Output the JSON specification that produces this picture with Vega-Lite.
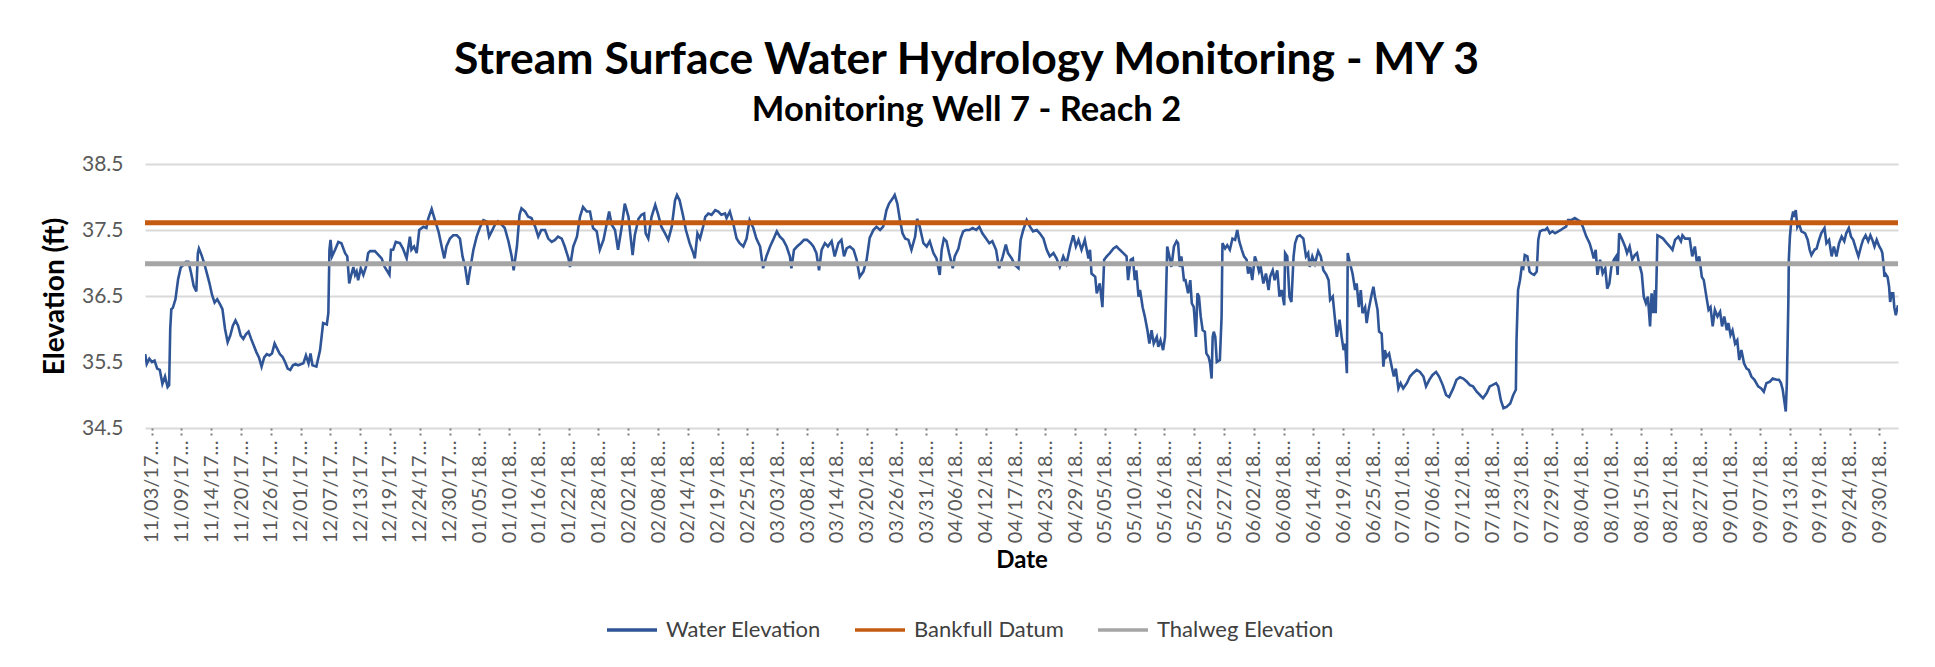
{
"$schema":"https://vega.github.io/schema/vega-lite/v6.json",
"width":1753,"height":264,
"autosize":{"type":"none"},
"padding":{"left":145,"top":164,"right":37,"bottom":239},
"background":"#FFFFFF",
"config":{"view":{"stroke":null},"font":"Lato","legend":{"orient":"none","legendX":460,"legendY":439,"direction":"horizontal","symbolType":"stroke","symbolSize":2500,"symbolStrokeWidth":3.5,"labelFont":"Lato","labelFontSize":22,"labelColor":"#404040","labelOffset":7,"columnPadding":27,"labelLimit":400}},
"title":{"text":"Stream Surface Water Hydrology Monitoring - MY 3","subtitle":"Monitoring Well 7 - Reach 2","font":"Lato","fontSize":44.5,"fontWeight":"bold","color":"#000000","subtitleFont":"Lato","subtitleFontSize":34.5,"subtitleFontWeight":"bold","subtitleColor":"#000000","subtitlePadding":10,"anchor":"middle","dx":-55,"offset":25},
"datasets":{
"water":[
{"date":"2017-11-02T05:00Z","elev":35.62},{"date":"2017-11-02T12:00Z","elev":35.47},{"date":"2017-11-03T00:00Z","elev":35.55},{"date":"2017-11-03T12:00Z","elev":35.50},{"date":"2017-11-04T00:00Z","elev":35.52},{"date":"2017-11-04T12:00Z","elev":35.40},{"date":"2017-11-05T00:00Z","elev":35.38},{"date":"2017-11-05T12:00Z","elev":35.17},{"date":"2017-11-06T00:00Z","elev":35.28},{"date":"2017-11-06T12:00Z","elev":35.12},{"date":"2017-11-06T19:00Z","elev":35.15},{"date":"2017-11-07T00:00Z","elev":36.00},{"date":"2017-11-07T05:00Z","elev":36.30},{"date":"2017-11-07T12:00Z","elev":36.32},{"date":"2017-11-08T00:00Z","elev":36.45},{"date":"2017-11-08T12:00Z","elev":36.75},{"date":"2017-11-09T00:00Z","elev":36.93},{"date":"2017-11-09T12:00Z","elev":36.97},{"date":"2017-11-10T00:00Z","elev":37.02},{"date":"2017-11-10T12:00Z","elev":37.02},{"date":"2017-11-11T00:00Z","elev":36.85},{"date":"2017-11-11T12:00Z","elev":36.65},{"date":"2017-11-12T00:00Z","elev":36.57},{"date":"2017-11-12T07:00Z","elev":37.15},{"date":"2017-11-12T12:00Z","elev":37.22},{"date":"2017-11-13T00:00Z","elev":37.12},{"date":"2017-11-13T12:00Z","elev":37.00},{"date":"2017-11-14T00:00Z","elev":36.85},{"date":"2017-11-14T12:00Z","elev":36.70},{"date":"2017-11-15T00:00Z","elev":36.52},{"date":"2017-11-15T12:00Z","elev":36.40},{"date":"2017-11-16T00:00Z","elev":36.45},{"date":"2017-11-16T12:00Z","elev":36.38},{"date":"2017-11-17T00:00Z","elev":36.30},{"date":"2017-11-17T12:00Z","elev":36.00},{"date":"2017-11-18T00:00Z","elev":35.80},{"date":"2017-11-18T12:00Z","elev":35.90},{"date":"2017-11-19T00:00Z","elev":36.05},{"date":"2017-11-19T12:00Z","elev":36.13},{"date":"2017-11-20T00:00Z","elev":36.05},{"date":"2017-11-20T12:00Z","elev":35.90},{"date":"2017-11-21T00:00Z","elev":35.85},{"date":"2017-11-21T12:00Z","elev":35.92},{"date":"2017-11-22T00:00Z","elev":35.96},{"date":"2017-11-22T12:00Z","elev":35.85},{"date":"2017-11-23T00:00Z","elev":35.75},{"date":"2017-11-23T12:00Z","elev":35.65},{"date":"2017-11-24T00:00Z","elev":35.57},{"date":"2017-11-24T12:00Z","elev":35.43},{"date":"2017-11-25T00:00Z","elev":35.57},{"date":"2017-11-25T12:00Z","elev":35.62},{"date":"2017-11-26T00:00Z","elev":35.60},{"date":"2017-11-26T12:00Z","elev":35.63},{"date":"2017-11-27T00:00Z","elev":35.78},{"date":"2017-11-27T12:00Z","elev":35.70},{"date":"2017-11-28T00:00Z","elev":35.62},{"date":"2017-11-28T12:00Z","elev":35.58},{"date":"2017-11-29T00:00Z","elev":35.50},{"date":"2017-11-29T12:00Z","elev":35.40},{"date":"2017-11-30T00:00Z","elev":35.38},{"date":"2017-11-30T12:00Z","elev":35.45},
{"date":"2017-12-01T00:00Z","elev":35.47},{"date":"2017-12-01T12:00Z","elev":35.45},{"date":"2017-12-02T12:00Z","elev":35.48},{"date":"2017-12-03T00:00Z","elev":35.60},{"date":"2017-12-03T12:00Z","elev":35.48},{"date":"2017-12-03T21:00Z","elev":35.63},{"date":"2017-12-04T06:00Z","elev":35.45},{"date":"2017-12-05T00:00Z","elev":35.43},{"date":"2017-12-05T17:00Z","elev":35.68},{"date":"2017-12-06T07:00Z","elev":36.09},{"date":"2017-12-07T00:00Z","elev":36.07},{"date":"2017-12-07T07:00Z","elev":36.24},{"date":"2017-12-07T12:00Z","elev":37.20},{"date":"2017-12-07T17:00Z","elev":37.35},{"date":"2017-12-08T00:00Z","elev":37.10},{"date":"2017-12-08T14:00Z","elev":37.20},{"date":"2017-12-09T05:00Z","elev":37.32},{"date":"2017-12-09T19:00Z","elev":37.30},{"date":"2017-12-10T12:00Z","elev":37.15},{"date":"2017-12-10T22:00Z","elev":37.10},{"date":"2017-12-11T07:00Z","elev":36.69},{"date":"2017-12-11T14:00Z","elev":36.79},{"date":"2017-12-12T02:00Z","elev":36.94},{"date":"2017-12-12T10:00Z","elev":36.82},{"date":"2017-12-12T17:00Z","elev":36.87},{"date":"2017-12-13T00:00Z","elev":36.74},{"date":"2017-12-13T12:00Z","elev":36.92},{"date":"2017-12-14T00:00Z","elev":36.82},{"date":"2017-12-14T12:00Z","elev":36.94},{"date":"2017-12-14T22:00Z","elev":37.15},{"date":"2017-12-15T07:00Z","elev":37.18},{"date":"2017-12-16T05:00Z","elev":37.18},{"date":"2017-12-16T22:00Z","elev":37.12},{"date":"2017-12-17T12:00Z","elev":37.07},{"date":"2017-12-18T02:00Z","elev":36.94},{"date":"2017-12-19T00:00Z","elev":36.82},{"date":"2017-12-19T07:00Z","elev":37.20},{"date":"2017-12-19T17:00Z","elev":37.20},{"date":"2017-12-20T05:00Z","elev":37.32},{"date":"2017-12-21T00:00Z","elev":37.30},{"date":"2017-12-21T14:00Z","elev":37.22},{"date":"2017-12-22T07:00Z","elev":37.07},{"date":"2017-12-22T22:00Z","elev":37.40},{"date":"2017-12-23T05:00Z","elev":37.20},{"date":"2017-12-23T17:00Z","elev":37.25},{"date":"2017-12-24T05:00Z","elev":37.15},{"date":"2017-12-24T17:00Z","elev":37.50},{"date":"2017-12-25T12:00Z","elev":37.55},{"date":"2017-12-26T02:00Z","elev":37.53},{"date":"2017-12-26T10:00Z","elev":37.67},{"date":"2017-12-27T02:00Z","elev":37.82},{"date":"2017-12-27T17:00Z","elev":37.65},{"date":"2017-12-28T10:00Z","elev":37.47},{"date":"2017-12-29T00:00Z","elev":37.25},{"date":"2017-12-29T12:00Z","elev":37.07},{"date":"2017-12-29T22:00Z","elev":37.25},{"date":"2017-12-30T14:00Z","elev":37.37},{"date":"2017-12-31T05:00Z","elev":37.42},{"date":"2017-12-31T22:00Z","elev":37.42},
{"date":"2018-01-01T12:00Z","elev":37.37},{"date":"2018-01-02T00:00Z","elev":37.10},{"date":"2018-01-02T12:00Z","elev":36.94},{"date":"2018-01-03T00:00Z","elev":36.67},{"date":"2018-01-03T10:00Z","elev":36.89},{"date":"2018-01-04T02:00Z","elev":37.20},{"date":"2018-01-04T17:00Z","elev":37.40},{"date":"2018-01-05T07:00Z","elev":37.53},{"date":"2018-01-06T00:00Z","elev":37.65},{"date":"2018-01-06T14:00Z","elev":37.63},{"date":"2018-01-07T02:00Z","elev":37.40},{"date":"2018-01-07T14:00Z","elev":37.48},{"date":"2018-01-08T05:00Z","elev":37.58},{"date":"2018-01-08T19:00Z","elev":37.63},{"date":"2018-01-09T12:00Z","elev":37.58},{"date":"2018-01-10T02:00Z","elev":37.53},{"date":"2018-01-10T19:00Z","elev":37.33},{"date":"2018-01-11T10:00Z","elev":37.10},{"date":"2018-01-11T19:00Z","elev":36.89},{"date":"2018-01-12T10:00Z","elev":37.25},{"date":"2018-01-12T22:00Z","elev":37.73},{"date":"2018-01-13T07:00Z","elev":37.83},{"date":"2018-01-14T00:00Z","elev":37.78},{"date":"2018-01-14T14:00Z","elev":37.70},{"date":"2018-01-15T05:00Z","elev":37.68},{"date":"2018-01-15T22:00Z","elev":37.55},{"date":"2018-01-16T12:00Z","elev":37.40},{"date":"2018-01-17T02:00Z","elev":37.50},{"date":"2018-01-17T19:00Z","elev":37.50},{"date":"2018-01-18T10:00Z","elev":37.37},{"date":"2018-01-19T02:00Z","elev":37.32},{"date":"2018-01-19T17:00Z","elev":37.35},{"date":"2018-01-20T07:00Z","elev":37.40},{"date":"2018-01-21T00:00Z","elev":37.37},{"date":"2018-01-21T14:00Z","elev":37.25},{"date":"2018-01-22T07:00Z","elev":37.07},{"date":"2018-01-22T14:00Z","elev":36.94},{"date":"2018-01-23T05:00Z","elev":37.25},{"date":"2018-01-23T22:00Z","elev":37.40},{"date":"2018-01-24T12:00Z","elev":37.70},{"date":"2018-01-25T02:00Z","elev":37.85},{"date":"2018-01-25T19:00Z","elev":37.78},{"date":"2018-01-26T10:00Z","elev":37.78},{"date":"2018-01-27T00:00Z","elev":37.53},{"date":"2018-01-27T17:00Z","elev":37.48},{"date":"2018-01-28T07:00Z","elev":37.20},{"date":"2018-01-29T00:00Z","elev":37.35},{"date":"2018-01-29T14:00Z","elev":37.58},{"date":"2018-01-30T02:00Z","elev":37.78},{"date":"2018-01-30T14:00Z","elev":37.58},{"date":"2018-01-31T05:00Z","elev":37.50},{"date":"2018-01-31T19:00Z","elev":37.20},
{"date":"2018-02-01T12:00Z","elev":37.55},{"date":"2018-02-02T02:00Z","elev":37.90},{"date":"2018-02-02T19:00Z","elev":37.70},{"date":"2018-02-03T02:00Z","elev":37.48},{"date":"2018-02-03T14:00Z","elev":37.12},{"date":"2018-02-04T00:00Z","elev":37.42},{"date":"2018-02-04T17:00Z","elev":37.67},{"date":"2018-02-05T07:00Z","elev":37.73},{"date":"2018-02-05T19:00Z","elev":37.75},{"date":"2018-02-06T02:00Z","elev":37.45},{"date":"2018-02-06T14:00Z","elev":37.37},{"date":"2018-02-07T05:00Z","elev":37.70},{"date":"2018-02-07T22:00Z","elev":37.88},{"date":"2018-02-08T12:00Z","elev":37.73},{"date":"2018-02-09T02:00Z","elev":37.55},{"date":"2018-02-09T19:00Z","elev":37.45},{"date":"2018-02-10T10:00Z","elev":37.35},{"date":"2018-02-11T02:00Z","elev":37.55},{"date":"2018-02-11T17:00Z","elev":37.95},{"date":"2018-02-12T02:00Z","elev":38.03},{"date":"2018-02-12T14:00Z","elev":37.95},{"date":"2018-02-13T05:00Z","elev":37.73},{"date":"2018-02-13T19:00Z","elev":37.50},{"date":"2018-02-14T12:00Z","elev":37.30},{"date":"2018-02-15T05:00Z","elev":37.15},{"date":"2018-02-15T12:00Z","elev":37.07},{"date":"2018-02-16T00:00Z","elev":37.45},{"date":"2018-02-16T12:00Z","elev":37.37},{"date":"2018-02-17T02:00Z","elev":37.55},{"date":"2018-02-17T12:00Z","elev":37.70},{"date":"2018-02-18T02:00Z","elev":37.75},{"date":"2018-02-18T17:00Z","elev":37.73},{"date":"2018-02-19T10:00Z","elev":37.80},{"date":"2018-02-20T00:00Z","elev":37.78},{"date":"2018-02-20T14:00Z","elev":37.73},{"date":"2018-02-21T07:00Z","elev":37.75},{"date":"2018-02-21T14:00Z","elev":37.68},{"date":"2018-02-22T05:00Z","elev":37.78},{"date":"2018-02-22T22:00Z","elev":37.58},{"date":"2018-02-23T12:00Z","elev":37.37},{"date":"2018-02-24T02:00Z","elev":37.30},{"date":"2018-02-24T19:00Z","elev":37.25},{"date":"2018-02-25T10:00Z","elev":37.37},{"date":"2018-02-26T00:00Z","elev":37.65},{"date":"2018-02-26T17:00Z","elev":37.53},{"date":"2018-02-27T07:00Z","elev":37.37},{"date":"2018-02-28T00:00Z","elev":37.25},{"date":"2018-02-28T14:00Z","elev":36.92},
{"date":"2018-03-01T05:00Z","elev":37.10},{"date":"2018-03-01T22:00Z","elev":37.25},{"date":"2018-03-02T12:00Z","elev":37.35},{"date":"2018-03-03T05:00Z","elev":37.48},{"date":"2018-03-03T19:00Z","elev":37.40},{"date":"2018-03-04T10:00Z","elev":37.35},{"date":"2018-03-05T02:00Z","elev":37.25},{"date":"2018-03-05T17:00Z","elev":37.10},{"date":"2018-03-06T00:00Z","elev":36.92},{"date":"2018-03-06T12:00Z","elev":37.20},{"date":"2018-03-07T02:00Z","elev":37.25},{"date":"2018-03-07T19:00Z","elev":37.30},{"date":"2018-03-08T10:00Z","elev":37.35},{"date":"2018-03-09T00:00Z","elev":37.35},{"date":"2018-03-09T17:00Z","elev":37.30},{"date":"2018-03-10T05:00Z","elev":37.25},{"date":"2018-03-10T19:00Z","elev":37.15},{"date":"2018-03-11T07:00Z","elev":36.89},{"date":"2018-03-11T19:00Z","elev":37.20},{"date":"2018-03-12T10:00Z","elev":37.30},{"date":"2018-03-13T00:00Z","elev":37.25},{"date":"2018-03-13T17:00Z","elev":37.33},{"date":"2018-03-14T07:00Z","elev":37.10},{"date":"2018-03-15T00:00Z","elev":37.30},{"date":"2018-03-15T14:00Z","elev":37.35},{"date":"2018-03-16T02:00Z","elev":37.10},{"date":"2018-03-16T14:00Z","elev":37.22},{"date":"2018-03-17T05:00Z","elev":37.25},{"date":"2018-03-17T22:00Z","elev":37.20},{"date":"2018-03-18T12:00Z","elev":37.05},{"date":"2018-03-19T02:00Z","elev":36.79},{"date":"2018-03-19T19:00Z","elev":36.87},{"date":"2018-03-20T10:00Z","elev":37.05},{"date":"2018-03-21T00:00Z","elev":37.38},{"date":"2018-03-21T17:00Z","elev":37.50},{"date":"2018-03-22T07:00Z","elev":37.55},{"date":"2018-03-23T00:00Z","elev":37.50},{"date":"2018-03-23T14:00Z","elev":37.55},{"date":"2018-03-24T05:00Z","elev":37.80},{"date":"2018-03-24T17:00Z","elev":37.90},{"date":"2018-03-25T10:00Z","elev":37.98},{"date":"2018-03-25T19:00Z","elev":38.03},{"date":"2018-03-26T07:00Z","elev":37.90},{"date":"2018-03-26T19:00Z","elev":37.65},{"date":"2018-03-27T07:00Z","elev":37.45},{"date":"2018-03-27T19:00Z","elev":37.37},{"date":"2018-03-28T10:00Z","elev":37.35},{"date":"2018-03-29T00:00Z","elev":37.20},{"date":"2018-03-29T17:00Z","elev":37.40},{"date":"2018-03-30T02:00Z","elev":37.67},{"date":"2018-03-30T14:00Z","elev":37.55},{"date":"2018-03-31T07:00Z","elev":37.30},{"date":"2018-03-31T22:00Z","elev":37.25},
{"date":"2018-04-01T12:00Z","elev":37.33},{"date":"2018-04-02T05:00Z","elev":37.15},{"date":"2018-04-02T19:00Z","elev":37.07},{"date":"2018-04-03T10:00Z","elev":36.82},{"date":"2018-04-03T19:00Z","elev":37.20},{"date":"2018-04-04T05:00Z","elev":37.37},{"date":"2018-04-04T17:00Z","elev":37.33},{"date":"2018-04-05T05:00Z","elev":37.15},{"date":"2018-04-05T22:00Z","elev":36.92},{"date":"2018-04-06T07:00Z","elev":37.10},{"date":"2018-04-07T00:00Z","elev":37.22},{"date":"2018-04-07T10:00Z","elev":37.37},{"date":"2018-04-07T22:00Z","elev":37.48},{"date":"2018-04-08T10:00Z","elev":37.50},{"date":"2018-04-09T02:00Z","elev":37.50},{"date":"2018-04-09T17:00Z","elev":37.53},{"date":"2018-04-10T10:00Z","elev":37.50},{"date":"2018-04-11T00:00Z","elev":37.55},{"date":"2018-04-11T14:00Z","elev":37.45},{"date":"2018-04-12T07:00Z","elev":37.37},{"date":"2018-04-12T22:00Z","elev":37.30},{"date":"2018-04-13T12:00Z","elev":37.33},{"date":"2018-04-14T05:00Z","elev":37.20},{"date":"2018-04-14T19:00Z","elev":36.92},{"date":"2018-04-15T12:00Z","elev":37.10},{"date":"2018-04-16T02:00Z","elev":37.28},{"date":"2018-04-16T12:00Z","elev":37.15},{"date":"2018-04-17T05:00Z","elev":37.07},{"date":"2018-04-17T19:00Z","elev":36.97},{"date":"2018-04-18T12:00Z","elev":36.92},{"date":"2018-04-18T22:00Z","elev":37.35},{"date":"2018-04-19T10:00Z","elev":37.50},{"date":"2018-04-20T02:00Z","elev":37.65},{"date":"2018-04-20T17:00Z","elev":37.55},{"date":"2018-04-21T07:00Z","elev":37.48},{"date":"2018-04-22T00:00Z","elev":37.50},{"date":"2018-04-22T14:00Z","elev":37.45},{"date":"2018-04-23T07:00Z","elev":37.37},{"date":"2018-04-23T22:00Z","elev":37.20},{"date":"2018-04-24T12:00Z","elev":37.10},{"date":"2018-04-25T05:00Z","elev":37.15},{"date":"2018-04-25T19:00Z","elev":37.07},{"date":"2018-04-26T10:00Z","elev":36.94},{"date":"2018-04-27T02:00Z","elev":37.10},{"date":"2018-04-27T17:00Z","elev":36.99},{"date":"2018-04-28T10:00Z","elev":37.25},{"date":"2018-04-29T00:00Z","elev":37.42},{"date":"2018-04-29T12:00Z","elev":37.25},{"date":"2018-04-30T00:00Z","elev":37.35},{"date":"2018-04-30T14:00Z","elev":37.20},
{"date":"2018-05-01T05:00Z","elev":37.35},{"date":"2018-05-01T22:00Z","elev":37.07},{"date":"2018-05-02T05:00Z","elev":37.20},{"date":"2018-05-02T12:00Z","elev":36.84},{"date":"2018-05-03T05:00Z","elev":36.79},{"date":"2018-05-03T12:00Z","elev":36.54},{"date":"2018-05-04T02:00Z","elev":36.69},{"date":"2018-05-04T14:00Z","elev":36.33},{"date":"2018-05-04T22:00Z","elev":37.05},{"date":"2018-05-05T10:00Z","elev":37.10},{"date":"2018-05-06T00:00Z","elev":37.15},{"date":"2018-05-06T17:00Z","elev":37.22},{"date":"2018-05-07T07:00Z","elev":37.25},{"date":"2018-05-07T22:00Z","elev":37.20},{"date":"2018-05-08T14:00Z","elev":37.15},{"date":"2018-05-09T05:00Z","elev":37.10},{"date":"2018-05-09T12:00Z","elev":36.74},{"date":"2018-05-10T00:00Z","elev":37.05},{"date":"2018-05-10T10:00Z","elev":37.07},{"date":"2018-05-10T19:00Z","elev":36.74},{"date":"2018-05-11T02:00Z","elev":36.89},{"date":"2018-05-11T12:00Z","elev":36.49},{"date":"2018-05-11T19:00Z","elev":36.59},{"date":"2018-05-12T07:00Z","elev":36.33},{"date":"2018-05-12T17:00Z","elev":36.19},{"date":"2018-05-13T05:00Z","elev":35.98},{"date":"2018-05-13T14:00Z","elev":35.78},{"date":"2018-05-14T00:00Z","elev":35.98},{"date":"2018-05-14T10:00Z","elev":35.78},{"date":"2018-05-15T00:00Z","elev":35.88},{"date":"2018-05-15T07:00Z","elev":35.73},{"date":"2018-05-15T17:00Z","elev":35.83},{"date":"2018-05-16T05:00Z","elev":35.68},{"date":"2018-05-16T14:00Z","elev":35.88},{"date":"2018-05-17T00:00Z","elev":37.25},{"date":"2018-05-17T10:00Z","elev":37.10},{"date":"2018-05-17T19:00Z","elev":36.94},{"date":"2018-05-18T07:00Z","elev":37.25},{"date":"2018-05-18T19:00Z","elev":37.33},{"date":"2018-05-19T02:00Z","elev":37.30},{"date":"2018-05-19T10:00Z","elev":36.94},{"date":"2018-05-19T17:00Z","elev":37.10},{"date":"2018-05-20T05:00Z","elev":36.74},{"date":"2018-05-20T12:00Z","elev":36.74},{"date":"2018-05-21T00:00Z","elev":36.54},{"date":"2018-05-21T10:00Z","elev":36.74},{"date":"2018-05-21T17:00Z","elev":36.39},{"date":"2018-05-22T02:00Z","elev":36.33},{"date":"2018-05-22T12:00Z","elev":35.88},{"date":"2018-05-22T19:00Z","elev":36.54},{"date":"2018-05-23T02:00Z","elev":36.49},{"date":"2018-05-23T10:00Z","elev":36.19},{"date":"2018-05-23T19:00Z","elev":35.98},{"date":"2018-05-24T05:00Z","elev":35.96},{"date":"2018-05-24T12:00Z","elev":35.63},{"date":"2018-05-24T22:00Z","elev":35.58},{"date":"2018-05-25T05:00Z","elev":35.48},{"date":"2018-05-25T12:00Z","elev":35.25},{"date":"2018-05-25T17:00Z","elev":35.88},{"date":"2018-05-25T22:00Z","elev":35.96},{"date":"2018-05-26T05:00Z","elev":35.88},{"date":"2018-05-26T12:00Z","elev":35.50},{"date":"2018-05-27T02:00Z","elev":35.53},{"date":"2018-05-27T10:00Z","elev":36.19},{"date":"2018-05-27T14:00Z","elev":37.30},{"date":"2018-05-28T02:00Z","elev":37.22},{"date":"2018-05-28T12:00Z","elev":37.27},{"date":"2018-05-29T00:00Z","elev":37.20},{"date":"2018-05-29T12:00Z","elev":37.37},{"date":"2018-05-30T00:00Z","elev":37.35},{"date":"2018-05-30T10:00Z","elev":37.50},{"date":"2018-05-30T19:00Z","elev":37.33},{"date":"2018-05-31T07:00Z","elev":37.20},{"date":"2018-05-31T17:00Z","elev":37.10},
{"date":"2018-06-01T05:00Z","elev":37.05},{"date":"2018-06-01T12:00Z","elev":36.84},{"date":"2018-06-01T22:00Z","elev":36.94},{"date":"2018-06-02T07:00Z","elev":36.74},{"date":"2018-06-02T19:00Z","elev":37.10},{"date":"2018-06-03T05:00Z","elev":37.00},{"date":"2018-06-03T14:00Z","elev":36.87},{"date":"2018-06-03T22:00Z","elev":36.94},{"date":"2018-06-04T10:00Z","elev":36.69},{"date":"2018-06-04T22:00Z","elev":36.84},{"date":"2018-06-05T10:00Z","elev":36.59},{"date":"2018-06-05T17:00Z","elev":36.79},{"date":"2018-06-06T05:00Z","elev":36.89},{"date":"2018-06-06T14:00Z","elev":36.74},{"date":"2018-06-07T02:00Z","elev":36.89},{"date":"2018-06-07T12:00Z","elev":36.49},{"date":"2018-06-07T22:00Z","elev":36.59},{"date":"2018-06-08T10:00Z","elev":36.36},{"date":"2018-06-08T14:00Z","elev":37.15},{"date":"2018-06-09T00:00Z","elev":37.10},{"date":"2018-06-09T10:00Z","elev":36.49},{"date":"2018-06-09T19:00Z","elev":36.41},{"date":"2018-06-10T05:00Z","elev":37.10},{"date":"2018-06-10T12:00Z","elev":37.30},{"date":"2018-06-10T22:00Z","elev":37.40},{"date":"2018-06-11T10:00Z","elev":37.42},{"date":"2018-06-12T02:00Z","elev":37.37},{"date":"2018-06-12T14:00Z","elev":37.10},{"date":"2018-06-13T00:00Z","elev":37.15},{"date":"2018-06-13T07:00Z","elev":36.94},{"date":"2018-06-13T19:00Z","elev":37.10},{"date":"2018-06-14T07:00Z","elev":36.99},{"date":"2018-06-14T22:00Z","elev":37.18},{"date":"2018-06-15T10:00Z","elev":37.10},{"date":"2018-06-15T22:00Z","elev":36.89},{"date":"2018-06-16T12:00Z","elev":36.82},{"date":"2018-06-16T22:00Z","elev":36.74},{"date":"2018-06-17T05:00Z","elev":36.44},{"date":"2018-06-17T17:00Z","elev":36.49},{"date":"2018-06-18T02:00Z","elev":36.19},{"date":"2018-06-18T12:00Z","elev":35.88},{"date":"2018-06-19T00:00Z","elev":36.14},{"date":"2018-06-19T10:00Z","elev":35.88},{"date":"2018-06-19T19:00Z","elev":35.68},{"date":"2018-06-20T02:00Z","elev":35.78},{"date":"2018-06-20T10:00Z","elev":35.33},{"date":"2018-06-20T14:00Z","elev":37.15},{"date":"2018-06-21T00:00Z","elev":37.00},{"date":"2018-06-21T12:00Z","elev":36.84},{"date":"2018-06-22T00:00Z","elev":36.59},{"date":"2018-06-22T07:00Z","elev":36.69},{"date":"2018-06-22T17:00Z","elev":36.33},{"date":"2018-06-23T02:00Z","elev":36.59},{"date":"2018-06-23T10:00Z","elev":36.24},{"date":"2018-06-23T22:00Z","elev":36.33},{"date":"2018-06-24T05:00Z","elev":36.09},{"date":"2018-06-24T14:00Z","elev":36.29},{"date":"2018-06-25T05:00Z","elev":36.54},{"date":"2018-06-25T12:00Z","elev":36.64},{"date":"2018-06-25T19:00Z","elev":36.49},{"date":"2018-06-26T07:00Z","elev":36.29},{"date":"2018-06-26T14:00Z","elev":35.96},{"date":"2018-06-27T02:00Z","elev":35.93},{"date":"2018-06-27T10:00Z","elev":35.43},{"date":"2018-06-27T17:00Z","elev":35.68},{"date":"2018-06-28T00:00Z","elev":35.58},{"date":"2018-06-28T12:00Z","elev":35.63},{"date":"2018-06-29T00:00Z","elev":35.43},{"date":"2018-06-29T10:00Z","elev":35.28},{"date":"2018-06-29T19:00Z","elev":35.40},{"date":"2018-06-30T07:00Z","elev":35.10},{"date":"2018-06-30T17:00Z","elev":35.18},
{"date":"2018-07-01T05:00Z","elev":35.10},{"date":"2018-07-01T22:00Z","elev":35.18},{"date":"2018-07-02T12:00Z","elev":35.28},{"date":"2018-07-03T02:00Z","elev":35.33},{"date":"2018-07-03T19:00Z","elev":35.38},{"date":"2018-07-04T10:00Z","elev":35.35},{"date":"2018-07-05T02:00Z","elev":35.28},{"date":"2018-07-05T14:00Z","elev":35.13},{"date":"2018-07-06T05:00Z","elev":35.23},{"date":"2018-07-06T19:00Z","elev":35.30},{"date":"2018-07-07T12:00Z","elev":35.35},{"date":"2018-07-08T02:00Z","elev":35.28},{"date":"2018-07-08T19:00Z","elev":35.15},{"date":"2018-07-09T10:00Z","elev":35.00},{"date":"2018-07-10T00:00Z","elev":34.97},{"date":"2018-07-10T19:00Z","elev":35.10},{"date":"2018-07-11T10:00Z","elev":35.23},{"date":"2018-07-12T02:00Z","elev":35.27},{"date":"2018-07-12T17:00Z","elev":35.25},{"date":"2018-07-13T10:00Z","elev":35.20},{"date":"2018-07-14T00:00Z","elev":35.15},{"date":"2018-07-14T14:00Z","elev":35.13},{"date":"2018-07-15T07:00Z","elev":35.05},{"date":"2018-07-15T22:00Z","elev":35.00},{"date":"2018-07-16T12:00Z","elev":34.95},{"date":"2018-07-17T05:00Z","elev":35.03},{"date":"2018-07-17T19:00Z","elev":35.13},{"date":"2018-07-18T07:00Z","elev":35.15},{"date":"2018-07-19T00:00Z","elev":35.18},{"date":"2018-07-19T10:00Z","elev":35.13},{"date":"2018-07-19T22:00Z","elev":34.92},{"date":"2018-07-20T10:00Z","elev":34.80},{"date":"2018-07-21T00:00Z","elev":34.82},{"date":"2018-07-21T17:00Z","elev":34.87},{"date":"2018-07-22T07:00Z","elev":35.00},{"date":"2018-07-22T19:00Z","elev":35.08},{"date":"2018-07-22T22:00Z","elev":35.83},{"date":"2018-07-23T05:00Z","elev":36.59},{"date":"2018-07-23T14:00Z","elev":36.74},{"date":"2018-07-23T22:00Z","elev":36.94},{"date":"2018-07-24T05:00Z","elev":36.92},{"date":"2018-07-24T12:00Z","elev":37.12},{"date":"2018-07-25T00:00Z","elev":37.10},{"date":"2018-07-25T10:00Z","elev":36.87},{"date":"2018-07-25T19:00Z","elev":36.84},{"date":"2018-07-26T07:00Z","elev":36.82},{"date":"2018-07-26T19:00Z","elev":36.87},{"date":"2018-07-27T02:00Z","elev":37.35},{"date":"2018-07-27T10:00Z","elev":37.48},{"date":"2018-07-27T22:00Z","elev":37.50},{"date":"2018-07-28T10:00Z","elev":37.50},{"date":"2018-07-28T19:00Z","elev":37.53},{"date":"2018-07-29T07:00Z","elev":37.45},{"date":"2018-07-29T19:00Z","elev":37.48},{"date":"2018-07-30T07:00Z","elev":37.45},{"date":"2018-07-30T22:00Z","elev":37.48},{"date":"2018-07-31T10:00Z","elev":37.50},{"date":"2018-07-31T22:00Z","elev":37.53},
{"date":"2018-08-01T10:00Z","elev":37.55},{"date":"2018-08-01T19:00Z","elev":37.65},{"date":"2018-08-02T10:00Z","elev":37.65},{"date":"2018-08-03T02:00Z","elev":37.68},{"date":"2018-08-03T17:00Z","elev":37.65},{"date":"2018-08-04T05:00Z","elev":37.63},{"date":"2018-08-04T17:00Z","elev":37.53},{"date":"2018-08-05T07:00Z","elev":37.40},{"date":"2018-08-05T22:00Z","elev":37.30},{"date":"2018-08-06T07:00Z","elev":37.20},{"date":"2018-08-06T17:00Z","elev":37.07},{"date":"2018-08-07T02:00Z","elev":37.20},{"date":"2018-08-07T10:00Z","elev":36.82},{"date":"2018-08-07T22:00Z","elev":37.05},{"date":"2018-08-08T10:00Z","elev":36.84},{"date":"2018-08-08T22:00Z","elev":36.92},{"date":"2018-08-09T07:00Z","elev":36.61},{"date":"2018-08-09T17:00Z","elev":36.69},{"date":"2018-08-10T02:00Z","elev":36.94},{"date":"2018-08-10T14:00Z","elev":37.05},{"date":"2018-08-11T00:00Z","elev":37.10},{"date":"2018-08-11T07:00Z","elev":36.82},{"date":"2018-08-11T14:00Z","elev":37.45},{"date":"2018-08-12T02:00Z","elev":37.37},{"date":"2018-08-12T17:00Z","elev":37.25},{"date":"2018-08-13T02:00Z","elev":37.15},{"date":"2018-08-13T14:00Z","elev":37.25},{"date":"2018-08-14T02:00Z","elev":37.05},{"date":"2018-08-14T14:00Z","elev":37.12},{"date":"2018-08-15T00:00Z","elev":37.15},{"date":"2018-08-15T10:00Z","elev":36.99},{"date":"2018-08-15T22:00Z","elev":36.84},{"date":"2018-08-16T07:00Z","elev":36.49},{"date":"2018-08-16T17:00Z","elev":36.39},{"date":"2018-08-17T02:00Z","elev":36.49},{"date":"2018-08-17T12:00Z","elev":36.04},{"date":"2018-08-17T19:00Z","elev":36.54},{"date":"2018-08-18T02:00Z","elev":36.24},{"date":"2018-08-18T10:00Z","elev":36.59},{"date":"2018-08-18T14:00Z","elev":36.24},{"date":"2018-08-18T22:00Z","elev":37.42},{"date":"2018-08-19T10:00Z","elev":37.40},{"date":"2018-08-20T00:00Z","elev":37.37},{"date":"2018-08-20T17:00Z","elev":37.30},{"date":"2018-08-21T07:00Z","elev":37.25},{"date":"2018-08-21T19:00Z","elev":37.20},{"date":"2018-08-22T07:00Z","elev":37.35},{"date":"2018-08-22T22:00Z","elev":37.40},{"date":"2018-08-23T10:00Z","elev":37.33},{"date":"2018-08-23T17:00Z","elev":37.42},{"date":"2018-08-24T05:00Z","elev":37.37},{"date":"2018-08-24T14:00Z","elev":37.37},{"date":"2018-08-25T02:00Z","elev":37.37},{"date":"2018-08-25T14:00Z","elev":37.10},{"date":"2018-08-26T02:00Z","elev":37.25},{"date":"2018-08-26T12:00Z","elev":36.99},{"date":"2018-08-26T22:00Z","elev":37.10},{"date":"2018-08-27T10:00Z","elev":36.79},{"date":"2018-08-27T19:00Z","elev":36.74},{"date":"2018-08-28T07:00Z","elev":36.49},{"date":"2018-08-28T17:00Z","elev":36.29},{"date":"2018-08-29T02:00Z","elev":36.33},{"date":"2018-08-29T12:00Z","elev":36.04},{"date":"2018-08-29T22:00Z","elev":36.29},{"date":"2018-08-30T10:00Z","elev":36.19},{"date":"2018-08-30T22:00Z","elev":36.26},{"date":"2018-08-31T07:00Z","elev":36.04},{"date":"2018-08-31T17:00Z","elev":36.19},
{"date":"2018-09-01T05:00Z","elev":35.98},{"date":"2018-09-01T12:00Z","elev":36.09},{"date":"2018-09-01T22:00Z","elev":35.91},{"date":"2018-09-02T07:00Z","elev":35.98},{"date":"2018-09-02T19:00Z","elev":35.78},{"date":"2018-09-03T05:00Z","elev":35.83},{"date":"2018-09-03T14:00Z","elev":35.53},{"date":"2018-09-04T00:00Z","elev":35.68},{"date":"2018-09-04T12:00Z","elev":35.48},{"date":"2018-09-05T00:00Z","elev":35.40},{"date":"2018-09-05T10:00Z","elev":35.38},{"date":"2018-09-05T22:00Z","elev":35.28},{"date":"2018-09-06T12:00Z","elev":35.23},{"date":"2018-09-07T05:00Z","elev":35.13},{"date":"2018-09-07T19:00Z","elev":35.10},{"date":"2018-09-08T07:00Z","elev":35.05},{"date":"2018-09-08T19:00Z","elev":35.18},{"date":"2018-09-09T10:00Z","elev":35.20},{"date":"2018-09-10T00:00Z","elev":35.25},{"date":"2018-09-10T17:00Z","elev":35.23},{"date":"2018-09-11T05:00Z","elev":35.23},{"date":"2018-09-11T14:00Z","elev":35.18},{"date":"2018-09-11T22:00Z","elev":35.08},{"date":"2018-09-12T07:00Z","elev":34.87},{"date":"2018-09-12T12:00Z","elev":34.75},{"date":"2018-09-12T17:00Z","elev":35.18},{"date":"2018-09-13T00:00Z","elev":36.44},{"date":"2018-09-13T02:00Z","elev":37.05},{"date":"2018-09-13T07:00Z","elev":37.40},{"date":"2018-09-13T14:00Z","elev":37.65},{"date":"2018-09-13T22:00Z","elev":37.78},{"date":"2018-09-14T02:00Z","elev":37.70},{"date":"2018-09-14T10:00Z","elev":37.80},{"date":"2018-09-14T17:00Z","elev":37.55},{"date":"2018-09-15T00:00Z","elev":37.60},{"date":"2018-09-15T12:00Z","elev":37.48},{"date":"2018-09-16T05:00Z","elev":37.45},{"date":"2018-09-16T17:00Z","elev":37.35},{"date":"2018-09-17T02:00Z","elev":37.20},{"date":"2018-09-17T10:00Z","elev":37.12},{"date":"2018-09-18T00:00Z","elev":37.20},{"date":"2018-09-18T10:00Z","elev":37.22},{"date":"2018-09-18T19:00Z","elev":37.33},{"date":"2018-09-19T07:00Z","elev":37.45},{"date":"2018-09-19T22:00Z","elev":37.53},{"date":"2018-09-20T07:00Z","elev":37.30},{"date":"2018-09-20T19:00Z","elev":37.35},{"date":"2018-09-21T07:00Z","elev":37.10},{"date":"2018-09-21T17:00Z","elev":37.25},{"date":"2018-09-22T05:00Z","elev":37.10},{"date":"2018-09-22T17:00Z","elev":37.30},{"date":"2018-09-23T05:00Z","elev":37.40},{"date":"2018-09-23T17:00Z","elev":37.33},{"date":"2018-09-24T02:00Z","elev":37.45},{"date":"2018-09-24T14:00Z","elev":37.53},{"date":"2018-09-25T00:00Z","elev":37.40},{"date":"2018-09-25T10:00Z","elev":37.35},{"date":"2018-09-25T22:00Z","elev":37.22},{"date":"2018-09-26T10:00Z","elev":37.10},{"date":"2018-09-26T22:00Z","elev":37.25},{"date":"2018-09-27T07:00Z","elev":37.35},{"date":"2018-09-27T19:00Z","elev":37.42},{"date":"2018-09-28T07:00Z","elev":37.33},{"date":"2018-09-28T17:00Z","elev":37.42},{"date":"2018-09-29T02:00Z","elev":37.35},{"date":"2018-09-29T12:00Z","elev":37.25},{"date":"2018-09-29T22:00Z","elev":37.35},{"date":"2018-09-30T10:00Z","elev":37.25},{"date":"2018-09-30T19:00Z","elev":37.20},
{"date":"2018-10-01T00:00Z","elev":37.15},{"date":"2018-10-01T05:00Z","elev":36.99},{"date":"2018-10-01T10:00Z","elev":36.79},{"date":"2018-10-01T14:00Z","elev":36.84},{"date":"2018-10-02T00:00Z","elev":36.79},{"date":"2018-10-02T07:00Z","elev":36.64},{"date":"2018-10-02T12:00Z","elev":36.41},{"date":"2018-10-02T19:00Z","elev":36.54},{"date":"2018-10-03T02:00Z","elev":36.54},{"date":"2018-10-03T07:00Z","elev":36.33},{"date":"2018-10-03T14:00Z","elev":36.21},{"date":"2018-10-03T19:00Z","elev":36.29},{"date":"2018-10-04T00:00Z","elev":36.36}
],
"refs":[
{"series":"Bankfull Datum","date":"2017-11-02T04:00Z","elev":37.61},{"series":"Bankfull Datum","date":"2018-10-04T00:00Z","elev":37.61},
{"series":"Thalweg Elevation","date":"2017-11-02T04:00Z","elev":36.99},{"series":"Thalweg Elevation","date":"2018-10-04T00:00Z","elev":36.99}
]
},
"encoding":{
"x":{"field":"date","type":"temporal",
"scale":{"type":"utc","domain":[{"year":2017,"month":11,"date":2,"hours":4,"utc":true},{"year":2018,"month":10,"date":4,"hours":0,"utc":true}]},
"axis":{"title":"Date","titleFont":"Lato","titleFontSize":24,"titleFontWeight":"bold","titleColor":"#000000","titlePadding":6,
"values":[1509705216000,1510198291862,1510691367724,1511184443586,1511677519448,1512170595310,1512663671172,1513156747034,1513649822896,1514142898758,1514635974620,1515129050482,1515622126344,1516115202206,1516608278068,1517101353930,1517594429792,1518087505654,1518580581516,1519073657378,1519566733240,1520059809102,1520552884964,1521045960826,1521539036688,1522032112550,1522525188412,1523018264274,1523511340136,1524004415998,1524497491860,1524990567722,1525483643584,1525976719446,1526469795308,1526962871170,1527455947032,1527949022894,1528442098756,1528935174618,1529428250480,1529921326342,1530414402204,1530907478066,1531400553928,1531893629790,1532386705652,1532879781514,1533372857376,1533865933238,1534359009100,1534852084962,1535345160824,1535838236686,1536331312548,1536824388410,1537317464272,1537810540134,1538303615996],
"labelExpr":"utcFormat(datum.value, '%m/%d/%y') + '…'",
"labelAngle":-90,"labelFont":"Lato","labelFontSize":20,"labelColor":"#595959","labelPadding":3,"labelOverlap":false,"labelBound":false,"labelFlush":false,
"ticks":true,"tickSize":9,"tickColor":"#7F7F7F","tickWidth":2,"tickDash":[2,3],
"domain":false,"grid":false}},
"y":{"field":"elev","type":"quantitative",
"scale":{"domain":[34.5,38.5],"zero":false,"nice":false},
"axis":{"title":"Elevation (ft)","titleFont":"Lato","titleFontSize":28,"titleFontWeight":"bold","titleColor":"#000000","titlePadding":12,
"values":[34.5,35.5,36.5,37.5,38.5],"format":".1f","labelFont":"Lato","labelFontSize":21,"labelColor":"#595959","labelPadding":22,
"ticks":false,"domain":false,"grid":true,"gridColor":"#D9D9D9","gridWidth":2}}
},
"layer":[
{"data":{"name":"water"},"mark":{"type":"line","strokeWidth":2.6,"clip":true},
"encoding":{"color":{"datum":"Water Elevation","type":"nominal",
"scale":{"domain":["Water Elevation","Bankfull Datum","Thalweg Elevation"],"range":["#2F5597","#C55A11","#A5A5A5"]},
"legend":{"title":null}}}},
{"data":{"name":"refs"},"mark":{"type":"line","strokeWidth":5,"clip":true},
"encoding":{"color":{"field":"series","type":"nominal","legend":{"title":null}}}}
]
}
